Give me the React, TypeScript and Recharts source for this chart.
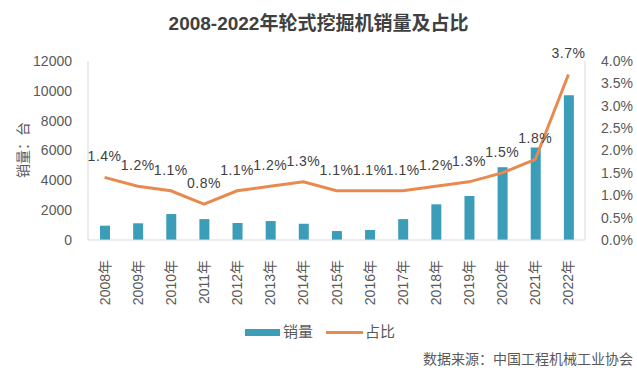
import { Bar, ComposedChart, LabelList, Line, XAxis, YAxis } from "recharts"

const years = ["2008年", "2009年", "2010年", "2011年", "2012年", "2013年", "2014年", "2015年", "2016年", "2017年", "2018年", "2019年", "2020年", "2021年", "2022年"]
const sales = [960, 1120, 1740, 1400, 1140, 1270, 1090, 600, 670, 1400, 2390, 2950, 4880, 6200, 9700]
const ratios = [1.4, 1.2, 1.1, 0.8, 1.1, 1.2, 1.3, 1.1, 1.1, 1.1, 1.2, 1.3, 1.5, 1.8, 3.7]
const leftTicks = [0, 2000, 4000, 6000, 8000, 10000, 12000]
const rightTicks = [0, 0.5, 1, 1.5, 2, 2.5, 3, 3.5, 4]

const chartData = years.map((year, i) => ({ year, sales: sales[i], ratio: ratios[i] }))

const font = "'Liberation Sans', Arial, 'Noto Sans CJK SC', sans-serif"
const barColor = "#3c9db8"
const lineColor = "#e8894f"
const textColor = "#595959"

const XTick = ({ x, y, payload }: any) => (
  <text
    x={x}
    y={y + 12}
    transform={`rotate(-90 ${x} ${y + 12})`}
    textAnchor="end"
    dominantBaseline="central"
    fontSize={14}
    fill={textColor}
    fontFamily={font}
  >
    {payload.value}
  </text>
)

export default function App() {
  return (
    <div style={{ position: "absolute", left: 0, top: 0, width: 637, height: 382, background: "#fff", fontFamily: font }}>
      <div style={{ position: "absolute", left: 0, top: 8, width: 637, textAlign: "center", fontSize: 19, fontWeight: "bold", color: "#404040" }}>
        2008-2022年轮式挖掘机销量及占比
      </div>
      <div style={{ position: "absolute", left: 22, top: 150, transform: "translate(-50%, -50%) rotate(-90deg)", fontSize: 14, color: textColor, whiteSpace: "nowrap" }}>
        销量：台
      </div>
      <ComposedChart width={637} height={382} data={chartData} margin={{ top: 61, right: 0, bottom: 82, left: 0 }}>
        <XAxis dataKey="year" height={60} interval={0} tickLine={false} axisLine={{ stroke: "#d9d9d9" }} tick={<XTick />} />
        <YAxis
          yAxisId="left"
          width={88}
          domain={[0, 12000]}
          ticks={leftTicks}
          tickLine={false}
          axisLine={{ stroke: "#d9d9d9" }}
          tickMargin={10}
          tick={{ fontSize: 14, fill: textColor, fontFamily: font }}
        />
        <YAxis
          yAxisId="right"
          orientation="right"
          width={52}
          domain={[0, 4]}
          ticks={rightTicks}
          tickLine={false}
          axisLine={{ stroke: "#d9d9d9" }}
          tickMargin={10}
          tickFormatter={(v) => `${v.toFixed(1)}%`}
          tick={{ fontSize: 14, fill: textColor, fontFamily: font }}
        />
        <Bar yAxisId="left" dataKey="sales" fill={barColor} barSize={10} isAnimationActive={false} />
        <Line
          yAxisId="right"
          dataKey="ratio"
          type="linear"
          stroke={lineColor}
          strokeWidth={3}
          dot={false}
          isAnimationActive={false}
        >
          <LabelList
            dataKey="ratio"
            position="top"
            offset={16}
            formatter={(v: any) => `${Number(v).toFixed(1)}%`}
            style={{ fontSize: 14, fill: "#404040", fontFamily: font, letterSpacing: 0.5 }}
          />
        </Line>
      </ComposedChart>
      <div style={{ position: "absolute", left: 245, top: 329, width: 35, height: 7, background: barColor }} />
      <div style={{ position: "absolute", left: 283, top: 322, fontSize: 15, color: textColor, lineHeight: "20px" }}>销量</div>
      <div style={{ position: "absolute", left: 326, top: 331, width: 37, height: 3, background: lineColor }} />
      <div style={{ position: "absolute", left: 365, top: 322, fontSize: 15, color: textColor, lineHeight: "20px" }}>占比</div>
      <div style={{ position: "absolute", right: 4, top: 349, fontSize: 14, color: textColor, lineHeight: "20px" }}>
        数据来源：中国工程机械工业协会
      </div>
    </div>
  )
}
